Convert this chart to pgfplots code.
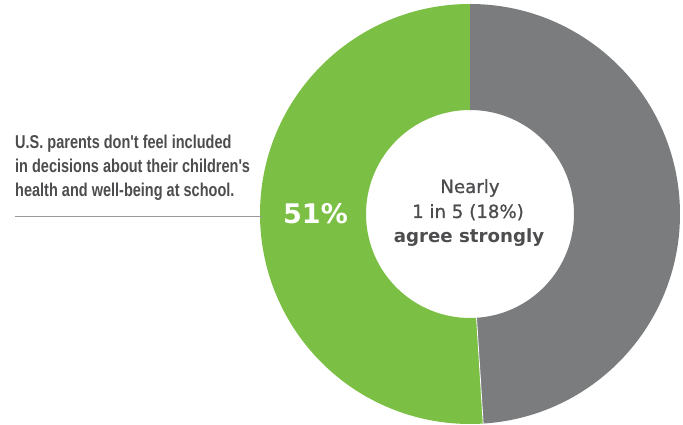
\documentclass[border=0pt]{standalone}
\usepackage{pgfplots}
\pgfplotsset{compat=1.18}
\usetikzlibrary{calc}
\usepackage{fontspec}
\setmainfont{Liberation Sans}
\newfontfamily\condfont[FakeStretch=0.78]{Liberation Sans}
\newfontfamily\dvfont{DejaVu Sans}
\newfontfamily\dvsemi[FakeBold=0.9]{DejaVu Sans}
\definecolor{pgreen}{HTML}{7BBF44}
\definecolor{pgray}{HTML}{7A7C7E}
\definecolor{ptext}{HTML}{4D4D4F}
\definecolor{pline}{HTML}{9A9A9A}
\begin{document}
\begin{tikzpicture}
\begin{axis}[
  hide axis, scale only axis,
  width=683pt, height=425pt,
  xmin=0, xmax=683, ymin=0, ymax=425,
  clip=false,
]
% donut: green 51, gray 49 ; centre (470,211), outer r 210pt, inner r 104pt
\def\pa{51}\def\pb{49}
\pgfmathsetmacro{\aend}{90+\pa*3.6}
\fill[pgreen] (axis cs:470,211) ++(90:210pt) arc[start angle=90,end angle=\aend,radius=210pt]
   -- ($(axis cs:470,211)+(\aend:104pt)$) arc[start angle=\aend,end angle=90,radius=104pt] -- cycle;
\fill[pgray] (axis cs:470,211) ++(\aend:210pt) arc[start angle=\aend,end angle=450,radius=210pt]
   -- ($(axis cs:470,211)+(90:104pt)$) arc[start angle=450,end angle=\aend,radius=104pt] -- cycle;
\draw[white, line width=0.8pt] ($(axis cs:470,211)+(\aend:104pt)$) -- ($(axis cs:470,211)+(\aend:210pt)$);
% annotation
\draw[pline, line width=0.9pt] (axis cs:15,209) -- (axis cs:262,209);
\node[anchor=base west, inner sep=0pt, text=ptext, font=\condfont\bfseries\fontsize{18.6}{20}\selectfont] at (axis cs:15,276) {U.S. parents don't feel included};
\node[anchor=base west, inner sep=0pt, text=ptext, font=\condfont\bfseries\fontsize{18.6}{20}\selectfont] at (axis cs:15,252) {in decisions about their children's};
\node[anchor=base west, inner sep=0pt, text=ptext, font=\condfont\bfseries\fontsize{18.6}{20}\selectfont] at (axis cs:15,228) {health and well-being at school.};
\node[anchor=base west, inner sep=0pt, text=white, font=\dvfont\bfseries\fontsize{27}{30}\selectfont] at (axis cs:283,201) {51\%};
% centre text
\node[anchor=base, inner sep=0pt, text=ptext, font=\dvsemi\fontsize{18.2}{20}\selectfont] at (axis cs:470,232) {Nearly};
\node[anchor=base, inner sep=0pt, text=ptext, font=\dvsemi\fontsize{18.2}{20}\selectfont] at (axis cs:468,207) {1 in 5 (18\%)};
\node[anchor=base, inner sep=0pt, text=ptext, font=\dvfont\bfseries\fontsize{18.2}{20}\selectfont] at (axis cs:469,182) {agree strongly};
\end{axis}
\pgfresetboundingbox
\path (0,0) rectangle (683pt,425pt);
\end{tikzpicture}
\end{document}
